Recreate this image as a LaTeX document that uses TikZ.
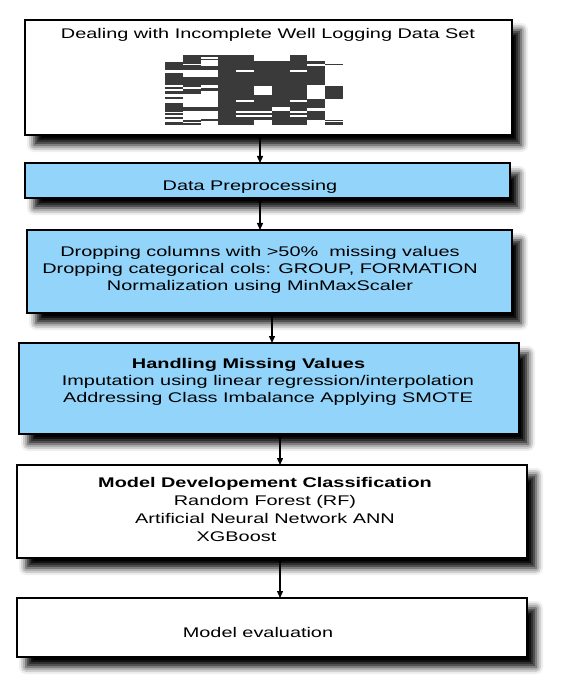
\documentclass[tikz,border=0pt]{standalone}
\usepackage{fontspec}
\setmainfont{Liberation Sans}[FakeStretch=1.42]
\usetikzlibrary{arrows.meta, shadows.blur}
\definecolor{procblue}{RGB}{146,212,250}
\definecolor{cellgray}{RGB}{58,58,58}

\begin{document}
\begin{tikzpicture}[
        x=1pt, y=-1pt,
        flowbox/.style={draw, line width=1.2pt, inner sep=0pt, outer sep=0pt, fill=white,
            blur shadow={shadow xshift=9pt, shadow yshift=-10pt, shadow blur radius=7pt, shadow opacity=100}},
        bluebox/.style={flowbox, fill=procblue},
        boxtext/.style={align=center, inner sep=0pt, font=\fontsize{14}{17}\selectfont},
        flowarrow/.style={{Circle[length=4pt]}-{Triangle[length=7pt, width=6pt]}, line width=1.3pt}
    ]
    \useasboundingbox (0,0) rectangle (586,684);

    % Boxes of the work flow
    \node[flowbox, minimum width=487pt, minimum height=115pt] (dataset) at (268.5,77.5) {};
    \node[bluebox, minimum width=485pt, minimum height=35pt] (prep) at (267.5,180.5) {};
    \node[bluebox, minimum width=485pt, minimum height=83pt] (dropcols) at (269.5,271.5) {};
    \node[bluebox, minimum width=500pt, minimum height=91pt] (missing) at (269,388.5) {};
    \node[flowbox, minimum width=510pt, minimum height=93pt] (model) at (272,511.5) {};
    \node[flowbox, minimum width=510pt, minimum height=59pt] (evaluation) at (272,627.5) {};

    % Texts of the boxes
    \node[boxtext] (dataset_txt) at (268,35) {Dealing with Incomplete Well Logging Data Set};
    \node[boxtext] (prep_txt) at (250,187) {Data Preprocessing};
    \node[boxtext] (dropcols_txt) at (260,270) {Dropping columns with >50\%~ missing values\\
        Dropping categorical cols: GROUP, FORMATION\\ Normalization using MinMaxScaler};
    \node[boxtext] (missing_txt) at (268,382) {\textbf{Handling Missing Values}\rule{39pt}{0pt}\\
        Imputation using linear regression/interpolation\\ Addressing Class Imbalance Applying SMOTE};
    \node[boxtext, font=\fontsize{14}{18}\selectfont] (model_txt) at (265,509) {\textbf{Model Developement Classification}\\
        Random Forest (RF)\\ Artificial Neural Network ANN\\ XGBoost\rule{57pt}{0pt}};
    \node[boxtext] (evaluation_txt) at (258,632) {Model evaluation};

    % Missing value matrix of the data set
    \foreach \col/\segs in {0/{62/70,73/85,87/89,91/94,97/99,103/112,113.5/115,117/119,122/125},
            1/{55/64,65/70,77/87,89/94,107/111,120/122,123/125},
            2/{55/57,59/60.5,66/70,77/85,88/91,107/111,119.5/121},
            3/{55/125},
            4/{55/70.5,72/100,102/111,113/115.5,117/125},
            5/{61/86,95/111,113/115.5,117/120},
            6/{61/107,111/125},
            7/{55/70.5,72/100,102/111,113/115.5,117/125},
            8/{61/64,66/85,99/108,111/120},
            9/{64/65,86/99,120/121.5,122.5/125}} {
        \foreach \ya/\yb in \segs
            \fill[cellgray] (165+17.8*\col,\ya) rectangle (182.8+17.8*\col,\yb);
    }

    % Arrows between the steps
    \draw[flowarrow] ([xshift=-8.5pt, yshift=-1pt]dataset.south) -- ([xshift=-7.5pt]prep.north);
    \draw[flowarrow] ([xshift=-7.5pt, yshift=-1pt]prep.south) -- ([xshift=-9.5pt]dropcols.north);
    \draw[flowarrow] ([xshift=2.5pt, yshift=-1pt]dropcols.south) -- ([xshift=3pt]missing.north);
    \draw[flowarrow] ([xshift=11pt, yshift=-1pt]missing.south) -- ([xshift=8pt]model.north);
    \draw[flowarrow] ([xshift=8pt, yshift=-1pt]model.south) -- ([xshift=8pt]evaluation.north);
\end{tikzpicture}
\end{document}
